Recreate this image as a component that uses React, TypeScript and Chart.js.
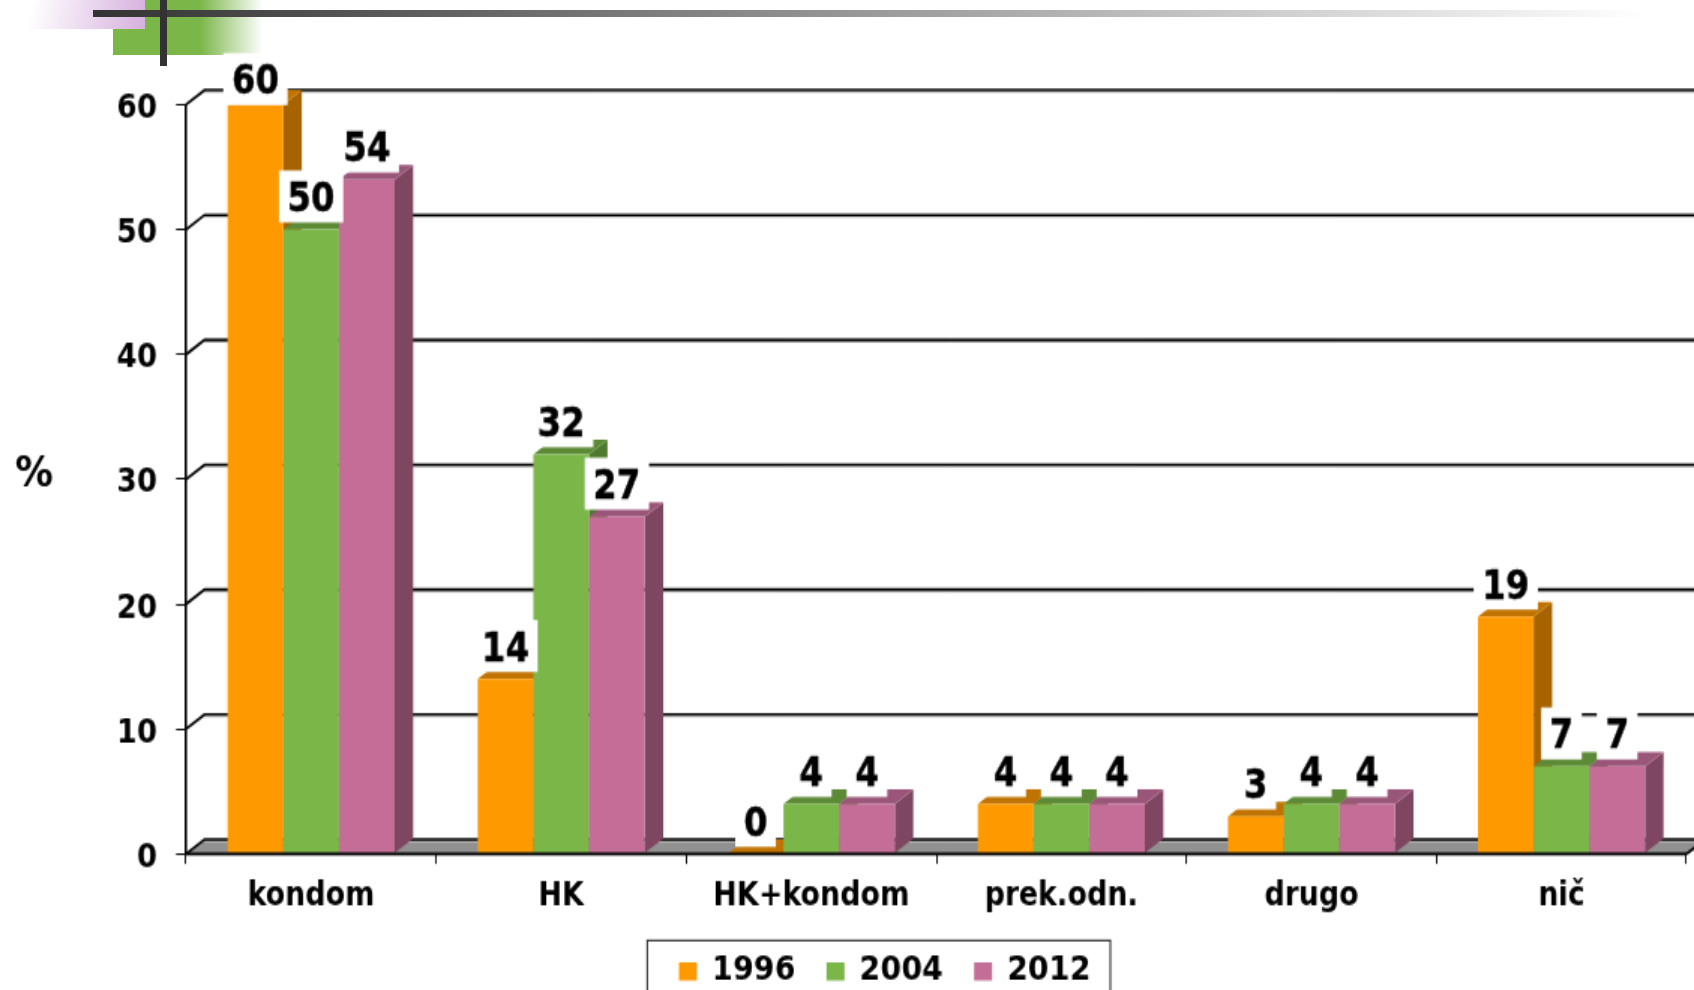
import React, { useEffect, useRef } from "react";
import { Chart, registerables } from "chart.js";

Chart.register(...registerables);

const categories = ["kondom", "HK", "HK+kondom", "prek.odn.", "drugo", "nič"];
const values1996 = [60, 14, 0, 4, 3, 19];
const values2004 = [50, 32, 4, 4, 4, 7];
const values2012 = [54, 27, 4, 4, 4, 7];
const seriesNames = ["1996", "2004", "2012"];
const frontColors = ["#FF9900", "#7AB648", "#C46D97"];
const topColors = ["#C07300", "#5D8A36", "#9A5679"];
const sideColors = ["#A66300", "#4F7A2E", "#7F4662"];

const PAGE_W = 1694;
const PAGE_H = 990;
const SX = 1.5;
const SY = 1.73;
const W = Math.round(PAGE_W / SX);
const H = Math.round(PAGE_H / SY);
const px = (v: number) => v / SX;
const py = (v: number) => v / SY;
const DX = px(18.5);
const DY = py(14.5);
const FONT = "'DejaVu Sans', Verdana, sans-serif";
const font = (size: number) => `bold ${size / SX}px ${FONT}`;

const wallPlugin = {
  id: "wall",
  beforeDatasetsDraw(chart: any) {
    const { ctx, chartArea } = chart;
    const y = chart.scales.y;
    const { left, right, bottom } = chartArea;
    ctx.save();
    ctx.beginPath();
    ctx.moveTo(left, bottom);
    ctx.lineTo(right, bottom);
    ctx.lineTo(right + DX, bottom - DY);
    ctx.lineTo(left + DX, bottom - DY);
    ctx.closePath();
    ctx.fillStyle = "#919191";
    ctx.fill();
    y.ticks.forEach((t: any) => {
      const yy = y.getPixelForValue(t.value);
      ctx.strokeStyle = "#c4c4c4";
      ctx.lineWidth = 1;
      ctx.beginPath();
      ctx.moveTo(left + DX, yy - DY + py(2));
      ctx.lineTo(W + 2, yy - DY + py(2));
      ctx.stroke();
      ctx.strokeStyle = "#000";
      ctx.lineWidth = 1.6;
      ctx.beginPath();
      ctx.moveTo(left, yy);
      ctx.lineTo(left + DX, yy - DY);
      ctx.lineTo(W + 2, yy - DY);
      ctx.stroke();
    });
    ctx.beginPath();
    ctx.moveTo(right, bottom);
    ctx.lineTo(right + DX, bottom - DY);
    ctx.stroke();
    // side and top faces of every bar, first series first; the library's bars cover them
    [0, 1, 2].forEach((di) => {
      chart.getDatasetMeta(di).data.forEach((bar: any) => {
        const l = bar.x - bar.width / 2;
        const r = bar.x + bar.width / 2;
        const t = bar.y;
        const b = bar.base;
        ctx.fillStyle = sideColors[di];
        ctx.beginPath();
        ctx.moveTo(r, t);
        ctx.lineTo(r + DX, t - DY);
        ctx.lineTo(r + DX, b - DY);
        ctx.lineTo(r, b);
        ctx.closePath();
        ctx.fill();
        ctx.fillStyle = topColors[di];
        ctx.beginPath();
        ctx.moveTo(l, t);
        ctx.lineTo(l + DX, t - DY);
        ctx.lineTo(r + DX, t - DY);
        ctx.lineTo(r, t);
        ctx.closePath();
        ctx.fill();
      });
    });
    ctx.restore();
  },
  afterDatasetsDraw(chart: any) {
    const { ctx, chartArea } = chart;
    ctx.save();
    ctx.strokeStyle = "#000";
    ctx.lineWidth = 1.6;
    ctx.beginPath();
    ctx.moveTo(chartArea.left, chartArea.bottom);
    ctx.lineTo(chartArea.right, chartArea.bottom);
    ctx.stroke();
    ctx.font = font(34);
    ctx.textAlign = "center";
    ctx.textBaseline = "middle";
    const boxH = py(52);
    const minTop = py(53);
    [0, 1, 2].forEach((di) => {
      const meta = chart.getDatasetMeta(di);
      meta.data.forEach((bar: any, i: number) => {
        const label = String(chart.data.datasets[di].data[i]);
        const tw = ctx.measureText(label).width;
        const boxW = tw + px(17);
        const bottom = Math.max(bar.y - py(7), minTop + boxH);
        ctx.fillStyle = "#fff";
        ctx.fillRect(bar.x - boxW / 2, bottom - boxH, boxW, boxH);
      });
    });
    ctx.lineWidth = 0.35;
    [0, 1, 2].forEach((di) => {
      const meta = chart.getDatasetMeta(di);
      meta.data.forEach((bar: any, i: number) => {
        const label = String(chart.data.datasets[di].data[i]);
        const bottom = Math.max(bar.y - py(7), minTop + boxH);
        ctx.fillStyle = "#000";
        ctx.fillText(label, bar.x, bottom - boxH / 2 + py(4.8));
        ctx.strokeText(label, bar.x, bottom - boxH / 2 + py(4.8));
      });
    });
    ctx.font = font(38);
    ctx.fillText("%", px(34), py(474));
    ctx.restore();
  },
  beforeDraw(chart: any) {
    const { ctx } = chart;
    ctx.save();
    ctx.strokeStyle = "#222";
    ctx.lineWidth = 1;
    ctx.strokeRect(px(647), py(940), px(463), py(80));
    ctx.restore();
    chart.legend.top = py(971) - 10 - chart.options.plugins.legend.labels.padding;
  },
};

export default function App() {
  const ref = useRef<HTMLCanvasElement | null>(null);
  useEffect(() => {
    document.body.style.margin = "0";
    document.body.style.background = "#fff";
    const chart = new Chart(ref.current as HTMLCanvasElement, {
      type: "bar",
      data: {
        labels: categories,
        datasets: [values1996, values2004, values2012].map((d, i) => ({
          label: seriesNames[i],
          data: d,
          backgroundColor: frontColors[i],
          borderWidth: 0,
          barPercentage: 1,
          categoryPercentage: 0.668,
        })),
      },
      options: {
        responsive: false,
        animation: false,
        devicePixelRatio: 1,
        layout: { padding: { left: px(83), right: px(7.5), top: py(104.5), bottom: -15.4 } },
        plugins: {
          title: { display: false },
          tooltip: { enabled: false },
          legend: {
            display: true,
            position: "bottom",
            labels: {
              boxWidth: px(18),
              boxHeight: py(18),
              padding: px(31),
              color: "#000",
              font: { family: FONT, weight: "bold", size: 30 / SX },
            },
          },
        },
        scales: {
          x: {
            afterFit: (s: any) => { s.height = 43.4; },
            grid: {
              drawOnChartArea: false,
              drawTicks: true,
              tickLength: py(10),
              color: "#111",
              offset: true,
            },
            border: { display: false },
            ticks: {
              color: "#000",
              padding: py(13.5),
              font: { family: FONT, weight: "bold", size: 28.3 / SX },
              maxRotation: 0,
            },
          },
          y: {
            min: 0,
            max: 60,
            afterFit: (s: any) => { s.width = px(186 - 83); },
            grid: {
              drawOnChartArea: false,
              drawTicks: true,
              tickLength: px(10),
              color: "#111",
            },
            border: { display: true, color: "#000", width: 1.6 },
            ticks: {
              stepSize: 10,
              color: "#000",
              padding: px(19),
              labelOffset: py(4.5),
              font: { family: FONT, weight: "bold", size: 29 / SX },
            },
          },
        },
      },
      plugins: [wallPlugin],
    } as any);
    return () => chart.destroy();
  }, []);

  const greenGrad = "linear-gradient(to right, #7AB648 0, #7AB648 55px, rgba(122,182,72,0) 118px)";
  return (
    <div style={{ position: "absolute", left: 0, top: 0, width: PAGE_W, height: PAGE_H, overflow: "hidden", background: "#fff" }}>
      <div style={{ position: "absolute", left: 26, top: 0, width: 119, height: 29, background: "linear-gradient(100deg, rgba(211,170,219,0) 5%, #D6B0DE 100%)" }} />
      <div style={{ position: "absolute", left: 145, top: 0, width: 118, height: 29, background: greenGrad }} />
      <div style={{ position: "absolute", left: 113, top: 29, width: 32, height: 26, background: "#7AB648" }} />
      <div style={{ position: "absolute", left: 145, top: 29, width: 118, height: 26, background: greenGrad }} />
      <div style={{ position: "absolute", left: 0, top: 0, transformOrigin: "0 0", transform: `scale(${PAGE_W / W}, ${PAGE_H / H})` }}>
        <canvas ref={ref} width={W} height={H} style={{ display: "block" }} />
      </div>
      <div style={{ position: "absolute", left: 93, top: 10, width: 1601, height: 7, background: "linear-gradient(to right, #333 0, #FFFFFF 97%)" }} />
      <div style={{ position: "absolute", left: 160, top: 0, width: 7, height: 66, background: "#333" }} />
    </div>
  );
}
